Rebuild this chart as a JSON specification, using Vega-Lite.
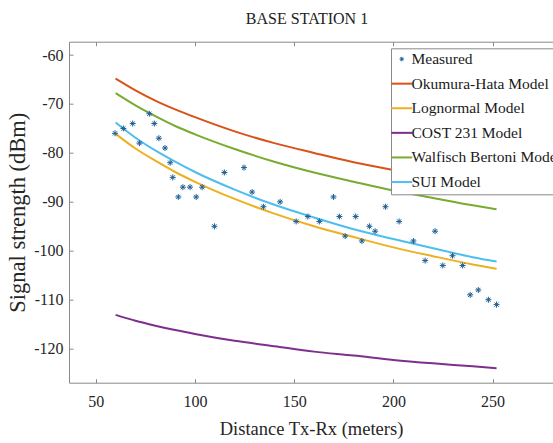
{
  "$schema": "https://vega.github.io/schema/vega-lite/v6.json",
  "autosize": "none",
  "width": 484,
  "height": 341,
  "padding": {"left": 69, "top": 41.7, "right": 0, "bottom": 60.3},
  "background": "white",
  "config": {
    "view": {"stroke": null},
    "font": "Liberation Serif",
    "axis": {
      "domainColor": "#8a8a8a",
      "tickColor": "#8a8a8a",
      "labelFont": "Liberation Serif",
      "titleFont": "Liberation Serif",
      "labelColor": "#262626",
      "titleColor": "#262626",
      "titleFontWeight": "normal",
      "grid": false
    }
  },
  "title": {"text": "BASE STATION 1", "font": "Liberation Serif", "fontSize": 16, "fontWeight": "normal", "color": "#222222", "offset": 14, "dx": -4},
  "datasets": {
    "measured": [
      {"d": 59.7, "v": -76, "series": "Measured"},
      {"d": 63.9, "v": -75, "series": "Measured"},
      {"d": 68.6, "v": -74, "series": "Measured"},
      {"d": 72.0, "v": -78, "series": "Measured"},
      {"d": 77.0, "v": -72, "series": "Measured"},
      {"d": 79.5, "v": -74, "series": "Measured"},
      {"d": 81.8, "v": -77, "series": "Measured"},
      {"d": 84.9, "v": -79, "series": "Measured"},
      {"d": 87.5, "v": -82, "series": "Measured"},
      {"d": 88.8, "v": -85, "series": "Measured"},
      {"d": 91.6, "v": -89, "series": "Measured"},
      {"d": 93.9, "v": -87, "series": "Measured"},
      {"d": 97.5, "v": -87, "series": "Measured"},
      {"d": 100.6, "v": -89, "series": "Measured"},
      {"d": 103.6, "v": -87, "series": "Measured"},
      {"d": 109.8, "v": -95, "series": "Measured"},
      {"d": 114.8, "v": -84, "series": "Measured"},
      {"d": 124.7, "v": -83, "series": "Measured"},
      {"d": 128.8, "v": -88, "series": "Measured"},
      {"d": 134.5, "v": -91, "series": "Measured"},
      {"d": 142.9, "v": -90, "series": "Measured"},
      {"d": 151.0, "v": -94, "series": "Measured"},
      {"d": 156.9, "v": -93, "series": "Measured"},
      {"d": 162.7, "v": -94, "series": "Measured"},
      {"d": 169.8, "v": -89, "series": "Measured"},
      {"d": 172.8, "v": -93, "series": "Measured"},
      {"d": 175.7, "v": -97, "series": "Measured"},
      {"d": 181.0, "v": -93, "series": "Measured"},
      {"d": 184.1, "v": -98, "series": "Measured"},
      {"d": 187.9, "v": -95, "series": "Measured"},
      {"d": 190.8, "v": -96, "series": "Measured"},
      {"d": 196.0, "v": -91, "series": "Measured"},
      {"d": 202.9, "v": -94, "series": "Measured"},
      {"d": 210.1, "v": -98, "series": "Measured"},
      {"d": 216.0, "v": -102, "series": "Measured"},
      {"d": 221.0, "v": -96, "series": "Measured"},
      {"d": 224.9, "v": -103, "series": "Measured"},
      {"d": 229.8, "v": -101, "series": "Measured"},
      {"d": 234.9, "v": -103, "series": "Measured"},
      {"d": 238.7, "v": -109, "series": "Measured"},
      {"d": 242.8, "v": -108, "series": "Measured"},
      {"d": 247.9, "v": -110, "series": "Measured"},
      {"d": 252.0, "v": -111, "series": "Measured"}
    ],
    "models": [
      {"d": 60, "v": -64.8, "series": "Okumura-Hata Model"},
      {"d": 70, "v": -67.2, "series": "Okumura-Hata Model"},
      {"d": 80, "v": -69.3, "series": "Okumura-Hata Model"},
      {"d": 90, "v": -71.1, "series": "Okumura-Hata Model"},
      {"d": 100, "v": -72.7, "series": "Okumura-Hata Model"},
      {"d": 120, "v": -75.6, "series": "Okumura-Hata Model"},
      {"d": 140, "v": -78.0, "series": "Okumura-Hata Model"},
      {"d": 160, "v": -80.0, "series": "Okumura-Hata Model"},
      {"d": 180, "v": -81.9, "series": "Okumura-Hata Model"},
      {"d": 200, "v": -83.5, "series": "Okumura-Hata Model"},
      {"d": 220, "v": -85.0, "series": "Okumura-Hata Model"},
      {"d": 240, "v": -86.4, "series": "Okumura-Hata Model"},
      {"d": 252, "v": -87.1, "series": "Okumura-Hata Model"},
      {"d": 60, "v": -76.1, "series": "Lognormal Model"},
      {"d": 70, "v": -79.1, "series": "Lognormal Model"},
      {"d": 80, "v": -81.6, "series": "Lognormal Model"},
      {"d": 90, "v": -83.9, "series": "Lognormal Model"},
      {"d": 100, "v": -85.9, "series": "Lognormal Model"},
      {"d": 120, "v": -89.4, "series": "Lognormal Model"},
      {"d": 140, "v": -92.4, "series": "Lognormal Model"},
      {"d": 160, "v": -95.0, "series": "Lognormal Model"},
      {"d": 180, "v": -97.2, "series": "Lognormal Model"},
      {"d": 200, "v": -99.3, "series": "Lognormal Model"},
      {"d": 220, "v": -101.1, "series": "Lognormal Model"},
      {"d": 240, "v": -102.8, "series": "Lognormal Model"},
      {"d": 252, "v": -103.7, "series": "Lognormal Model"},
      {"d": 60, "v": -113.1, "series": "COST 231 Model"},
      {"d": 70, "v": -114.3, "series": "COST 231 Model"},
      {"d": 80, "v": -115.3, "series": "COST 231 Model"},
      {"d": 90, "v": -116.2, "series": "COST 231 Model"},
      {"d": 100, "v": -117.0, "series": "COST 231 Model"},
      {"d": 120, "v": -118.4, "series": "COST 231 Model"},
      {"d": 140, "v": -119.5, "series": "COST 231 Model"},
      {"d": 160, "v": -120.6, "series": "COST 231 Model"},
      {"d": 180, "v": -121.4, "series": "COST 231 Model"},
      {"d": 200, "v": -122.3, "series": "COST 231 Model"},
      {"d": 220, "v": -123.0, "series": "COST 231 Model"},
      {"d": 240, "v": -123.6, "series": "COST 231 Model"},
      {"d": 252, "v": -124.0, "series": "COST 231 Model"},
      {"d": 60, "v": -67.8, "series": "Walfisch Bertoni Model"},
      {"d": 70, "v": -70.3, "series": "Walfisch Bertoni Model"},
      {"d": 80, "v": -72.5, "series": "Walfisch Bertoni Model"},
      {"d": 90, "v": -74.5, "series": "Walfisch Bertoni Model"},
      {"d": 100, "v": -76.2, "series": "Walfisch Bertoni Model"},
      {"d": 120, "v": -79.2, "series": "Walfisch Bertoni Model"},
      {"d": 140, "v": -81.8, "series": "Walfisch Bertoni Model"},
      {"d": 160, "v": -84.0, "series": "Walfisch Bertoni Model"},
      {"d": 180, "v": -85.9, "series": "Walfisch Bertoni Model"},
      {"d": 200, "v": -87.7, "series": "Walfisch Bertoni Model"},
      {"d": 220, "v": -89.2, "series": "Walfisch Bertoni Model"},
      {"d": 240, "v": -90.7, "series": "Walfisch Bertoni Model"},
      {"d": 252, "v": -91.5, "series": "Walfisch Bertoni Model"},
      {"d": 60, "v": -73.8, "series": "SUI Model"},
      {"d": 70, "v": -76.9, "series": "SUI Model"},
      {"d": 80, "v": -79.5, "series": "SUI Model"},
      {"d": 90, "v": -81.8, "series": "SUI Model"},
      {"d": 100, "v": -83.9, "series": "SUI Model"},
      {"d": 120, "v": -87.5, "series": "SUI Model"},
      {"d": 140, "v": -90.6, "series": "SUI Model"},
      {"d": 160, "v": -93.2, "series": "SUI Model"},
      {"d": 180, "v": -95.6, "series": "SUI Model"},
      {"d": 200, "v": -97.6, "series": "SUI Model"},
      {"d": 220, "v": -99.5, "series": "SUI Model"},
      {"d": 240, "v": -101.3, "series": "SUI Model"},
      {"d": 252, "v": -102.2, "series": "SUI Model"}
    ]
  },
  "resolve": {"axis": {"x": "independent", "y": "independent"}},
  "layer": [
    {
      "data": {"name": "models"},
      "mark": {"type": "line", "strokeWidth": 2, "interpolate": "monotone", "clip": true},
      "encoding": {
        "x": {"field": "d", "type": "quantitative", "scale": {"domain": [36.5, 280.45], "nice": false, "zero": false},
              "axis": {"orient": "top", "values": [50, 100, 150, 200, 250], "labels": false, "title": null, "tickSize": -4, "domain": true}},
        "y": {"field": "v", "type": "quantitative", "scale": {"domain": [-126.95, -57.28], "nice": false, "zero": false}, "axis": null},
        "color": {
          "field": "series", "type": "nominal",
          "scale": {
            "domain": ["Measured", "Okumura-Hata Model", "Lognormal Model", "COST 231 Model", "Walfisch Bertoni Model", "SUI Model"],
            "range": ["#1d5f94", "#D95319", "#EDB120", "#7E2F8E", "#77AC30", "#4DBEEE"]
          },
          "legend": {
            "orient": "none",
            "legendX": 322,
            "legendY": 6.6,
            "title": null,
            "symbolType": "stroke",
            "symbolSize": 441,
            "symbolStrokeWidth": 2,
            "labelFont": "Liberation Serif",
            "labelFontSize": 15.5,
            "labelColor": "#1a1a1a",
            "labelOffset": 2,
            "labelLimit": 400,
            "rowPadding": 7.6,
            "padding": 3,
            "fillColor": "white",
            "strokeColor": "#8a8a8a",
            "encode": {
              "symbols": {
                "update": {
                  "shape": {"signal": "datum.value === 'Measured' ? 'M-1,0L1,0M0,-1L0,1M-0.7,-0.7L0.7,0.7M-0.7,0.7L0.7,-0.7' : 'stroke'"},
                  "size": {"signal": "datum.value === 'Measured' ? 20 : 441"},
                  "strokeWidth": {"signal": "datum.value === 'Measured' ? 1 : 2"},
                  "fill": {"value": "transparent"}
                }
              }
            }
          }
        }
      }
    },
    {
      "data": {"name": "measured"},
      "mark": {"type": "point", "shape": "M-1,0L1,0M0,-1L0,1M-0.7,-0.7L0.7,0.7M-0.7,0.7L0.7,-0.7", "filled": false, "size": 36, "strokeWidth": 1, "opacity": 1},
      "encoding": {
        "x": {"field": "d", "type": "quantitative", "scale": {"domain": [36.5, 280.45], "nice": false, "zero": false},
              "axis": {"orient": "bottom", "values": [50, 100, 150, 200, 250], "tickSize": -4, "labelPadding": 15, "labelFontSize": 16, "title": "Distance Tx-Rx (meters)", "titleFontSize": 18.5, "titlePadding": 10}},
        "y": {"field": "v", "type": "quantitative", "scale": {"domain": [-126.95, -57.28], "nice": false, "zero": false},
              "axis": {"orient": "left", "values": [-120, -110, -100, -90, -80, -70, -60], "tickSize": -4, "labelPadding": 10, "labelFontSize": 16, "labelExpr": "replace(datum.label, '\u2212', '-')", "title": "Signal strength (dBm)", "titleFontSize": 22.5, "titlePadding": 4}},
        "color": {"field": "series", "type": "nominal"}
      }
    }
  ]
}
